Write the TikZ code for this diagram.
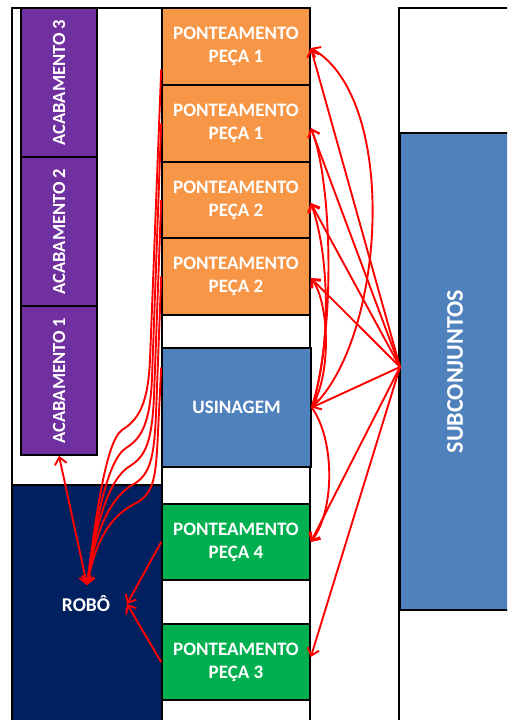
\documentclass[tikz,border=0pt]{standalone}
\usepackage{fontspec}
\usepackage{graphicx}
\setmainfont{Carlito}
\usetikzlibrary{arrows.meta}
\definecolor{orC}{HTML}{F79646}
\definecolor{puC}{HTML}{7030A0}
\definecolor{nvC}{HTML}{002060}
\definecolor{blC}{HTML}{4F81BD}
\definecolor{grC}{HTML}{00B050}
\definecolor{rdC}{HTML}{FF0000}
\begin{document}
\begin{tikzpicture}[x=1pt,y=-1pt,
  frame/.style={draw=black, line width=1.6pt, fill=white, inner sep=0pt},
  box/.style={draw=black, line width=1.6pt, inner sep=0pt, text=white,
    font=\fontsize{19}{23}\selectfont\bfseries, align=center},
  vbox/.style={box, font=\fontsize{18.5}{22}\selectfont\bfseries},
  lbl/.style={inner sep=0pt, text=white, font=\fontsize{19.5}{23}\selectfont\bfseries},
  tip/.tip={Straight Barb[length=7pt,width=12pt]},
  link/.style={draw=rdC, line width=1.9pt, -tip},
  dlink/.style={draw=rdC, line width=1.9pt, tip-tip}
]
\useasboundingbox (0,0) rectangle (507,720);
\clip (0,0) rectangle (507,720);
% containers
\node[frame, minimum width=150pt, minimum height=477pt] (leftbg) at (87,246.5) {};
\node[frame, minimum width=148pt, minimum height=732pt] (midbg) at (236,374) {};
\node[frame, minimum width=131pt, minimum height=732pt] (rightbg) at (464.5,374) {};
% left column
\node[vbox, fill=puC, minimum width=76pt, minimum height=149pt] (acab3) at (59,82.5) {\rotatebox{90}{ACABAMENTO 3}};
\node[vbox, fill=puC, minimum width=76pt, minimum height=149pt] (acab2) at (59,231.5) {\rotatebox{90}{ACABAMENTO 2}};
\node[vbox, fill=puC, minimum width=76pt, minimum height=149pt] (acab1) at (59,380.5) {\rotatebox{90}{ACABAMENTO 1}};
\node[box, fill=nvC, minimum width=150pt, minimum height=255pt] (robo) at (87,612.5) {};
\node[lbl] (robolbl) at (86,604) {ROBÔ};
% middle column
\node[box, fill=orC, minimum width=148pt, minimum height=77pt] (p1) at (236,46.5) {PONTEAMENTO\\PEÇA 1};
\node[box, fill=orC, minimum width=148pt, minimum height=77pt] (p2) at (236,123.5) {PONTEAMENTO\\PEÇA 1};
\node[box, fill=orC, minimum width=148pt, minimum height=76pt] (p3) at (236,200) {PONTEAMENTO\\PEÇA 2};
\node[box, fill=orC, minimum width=148pt, minimum height=77pt] (p4) at (236,276.5) {PONTEAMENTO\\PEÇA 2};
\node[box, fill=blC, minimum width=149pt, minimum height=119pt] (usin) at (236.5,407.5) {USINAGEM};
\node[box, fill=grC, minimum width=148pt, minimum height=76pt] (g4) at (236,542) {PONTEAMENTO\\PEÇA 4};
\node[box, fill=grC, minimum width=148pt, minimum height=76pt] (g3) at (236,662) {PONTEAMENTO\\PEÇA 3};
% right column
\node[box, fill=blC, minimum width=110pt, minimum height=477pt,
  font=\fontsize{24}{28}\selectfont\bfseries] (subc) at (455,371.5) {\rotatebox{90}{SUBCONJUNTOS}};
% connector points
\coordinate (hub) at (400,367);
\coordinate (rtop) at (87,585);
\coordinate (rright) at (127,604);
% hub to boxes
\draw[link] (hub) -- ([yshift=-1.5pt]p1.east);
\draw[link] (hub) -- ([yshift=-4.5pt]p2.east);
\draw[link] (hub) -- ([yshift=-3pt]p3.east);
\draw[link] (hub) -- ([yshift=-1.5pt]p4.east);
\draw[link] (hub) -- (usin.east);
\draw[link] (hub) -- (g4.east);
\draw[link] (hub) -- ([yshift=5pt]g3.east);
% arcs from usinagem
\draw[link] (usin.east) .. controls (385,340) and (400,100) .. ([yshift=-1.5pt]p1.east);
\draw[link] (usin.east) .. controls (336,330) and (332,180) .. ([yshift=-4.5pt]p2.east);
\draw[link] (usin.east) .. controls (333,340) and (328,250) .. ([yshift=-3pt]p3.east);
\draw[link] (usin.east) .. controls (333,370) and (328,300) .. ([yshift=-1.5pt]p4.east);
\draw[link] (usin.east) .. controls (335,440) and (335,510) .. (g4.east);
% left side
\draw[dlink] (acab1.south) -- (rtop);
\draw[link] (g4.west) -- (rright);
\draw[link] (g3.west) -- (rright);
\draw[link] ([yshift=-23pt]p1.west) -- (150,360) .. controls (148,405) and (138,420) .. (122,430) .. controls (105,442) and (95,525) .. (rtop);
\draw[link] (p2.west) -- (152,378) .. controls (150,423) and (142,438) .. (126,448) .. controls (107,460) and (95,525) .. (rtop);
\draw[link] (p3.west) -- (154,396) .. controls (152,441) and (146,456) .. (130,466) .. controls (109,478) and (95,525) .. (rtop);
\draw[link] (p4.west) -- (156,414) .. controls (154,459) and (150,474) .. (134,484) .. controls (111,496) and (95,530) .. (rtop);
\draw[link] ([yshift=40pt]usin.west) -- (158,432) .. controls (156,477) and (154,492) .. (138,502) .. controls (113,514) and (97,535) .. (rtop);
\end{tikzpicture}
\end{document}
